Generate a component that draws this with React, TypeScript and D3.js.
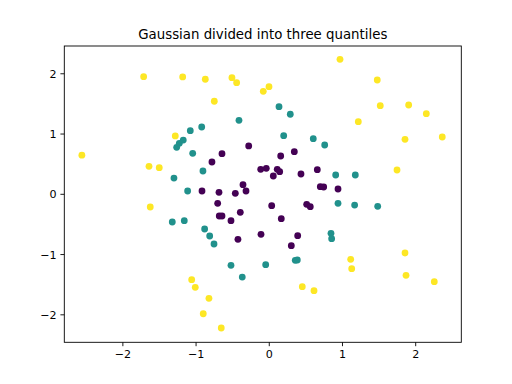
import React from "react";
import * as d3 from "d3";

const title = "Gaussian divided into three quantiles";
const xTicks = [-2, -1, 0, 1, 2];
const yTicks = [-2, -1, 0, 1, 2];

// class 0 (inner quantile)
const lowX = [-0.646, -0.783, -0.281, 0.156, 0.342, -0.117, -0.041, 0.109, 0.142, 0.055, 0.433, 0.656, 0.697, 0.743, -0.919, -0.687, -0.464, -0.359, -0.318, 0.939, -0.705, -0.683, -0.646, -0.396, -0.523, -0.428, -0.113, 0.033, 0.164, 0.511, 0.56, 0.388, 0.301];
const lowY = [0.674, 0.536, 0.802, 0.636, 0.707, 0.415, 0.431, 0.415, 0.375, 0.304, 0.337, 0.408, 0.126, 0.121, 0.055, 0.033, 0.017, 0.159, 0.055, 0.088, -0.149, -0.36, -0.36, -0.299, -0.438, -0.747, -0.664, -0.189, -0.405, -0.166, -0.206, -0.687, -0.853];
// class 1 (middle quantile)
const midX = [-1.302, -1.265, -1.229, -1.175, -1.079, -0.923, -1.046, -0.906, -1.115, -0.414, 0.133, 0.287, 0.197, 0.601, 0.757, 0.907, 1.175, -1.161, -0.883, -0.814, -0.755, -0.523, -0.369, -0.049, 0.355, 0.383, 0.843, 0.852, -1.325, 0.939, 1.166, 1.481];
const midY = [0.27, 0.78, 0.846, 0.9, 1.056, 1.117, 0.68, 0.387, 0.055, 1.228, 1.454, 1.328, 0.973, 0.923, 0.818, 0.32, 0.32, -0.438, -0.576, -0.692, -0.825, -1.178, -1.373, -1.168, -1.096, -1.09, -0.647, -0.737, -0.46, -0.149, -0.178, -0.2];
// class 2 (outer quantile)
const highX = [-2.56, -1.716, -1.183, -1.284, -1.643, -1.503, -0.874, -0.51, -0.446, -0.751, -0.082, -0.004, 0.966, 1.475, 1.516, 1.904, 2.145, 1.216, 1.854, 2.363, 1.745, -1.06, -1.011, -0.824, -0.902, -0.656, 0.451, 0.611, -1.626, 1.854, 1.112, 1.126, 1.868, 2.254];
const highY = [0.65, 1.952, 1.947, 0.968, 0.465, 0.442, 1.909, 1.935, 1.852, 1.544, 1.709, 1.786, 2.24, 1.897, 1.471, 1.482, 1.338, 1.205, 0.913, 0.951, 0.403, -1.417, -1.544, -1.726, -1.982, -2.219, -1.533, -1.6, -0.211, -0.974, -1.079, -1.235, -1.345, -1.45];

const groups = [
  { xs: lowX, ys: lowY, t: 0 },
  { xs: midX, ys: midY, t: 0.5 },
  { xs: highX, ys: highY, t: 1 },
];

export default function App() {
  const W = 512, H = 384;
  const L = 64.3, R = 461.3, T = 46, B = 342.3;
  const x = d3.scaleLinear().domain([-2.8, 2.623]).range([L, R]);
  const y = d3.scaleLinear().domain([-2.456, 2.461]).range([B, T]);
  const fmt = (v: number) => (v < 0 ? "\u2212" + Math.abs(v) : String(v));
  const font = "DejaVu Sans, sans-serif";
  const tl = 3.89;
  return (
    <svg width={W} height={H} style={{ position: "absolute", left: 0, top: 0 }} fontFamily={font}>
      <rect x={0} y={0} width={W} height={H} fill="#fff" />
      {groups.map((g, gi) =>
        g.xs.map((xv, i) => (
          <circle key={gi + "-" + i} cx={x(xv)} cy={y(g.ys[i])} r={3.4} fill={d3.interpolateViridis(g.t)} />
        ))
      )}
      <rect x={L} y={T} width={R - L} height={B - T} fill="none" stroke="#000" strokeWidth={0.9} />
      {xTicks.map((t) => (
        <g key={"x" + t}>
          <line x1={x(t)} x2={x(t)} y1={B} y2={B + tl} stroke="#000" strokeWidth={0.9} />
          <text x={x(t)} y={B + 2 * tl + 8.4} textAnchor="middle" fontSize={11.11} fill="#000">{fmt(t)}</text>
        </g>
      ))}
      {yTicks.map((t) => (
        <g key={"y" + t}>
          <line x1={L} x2={L - tl} y1={y(t)} y2={y(t)} stroke="#000" strokeWidth={0.9} />
          <text x={L - 2 * tl} y={y(t) + 4.0} textAnchor="end" fontSize={11.11} fill="#000">{fmt(t)}</text>
        </g>
      ))}
      <text x={(L + R) / 2} y={T - 6.67} textAnchor="middle" fontSize={13.33} fill="#000">{title}</text>
    </svg>
  );
}
